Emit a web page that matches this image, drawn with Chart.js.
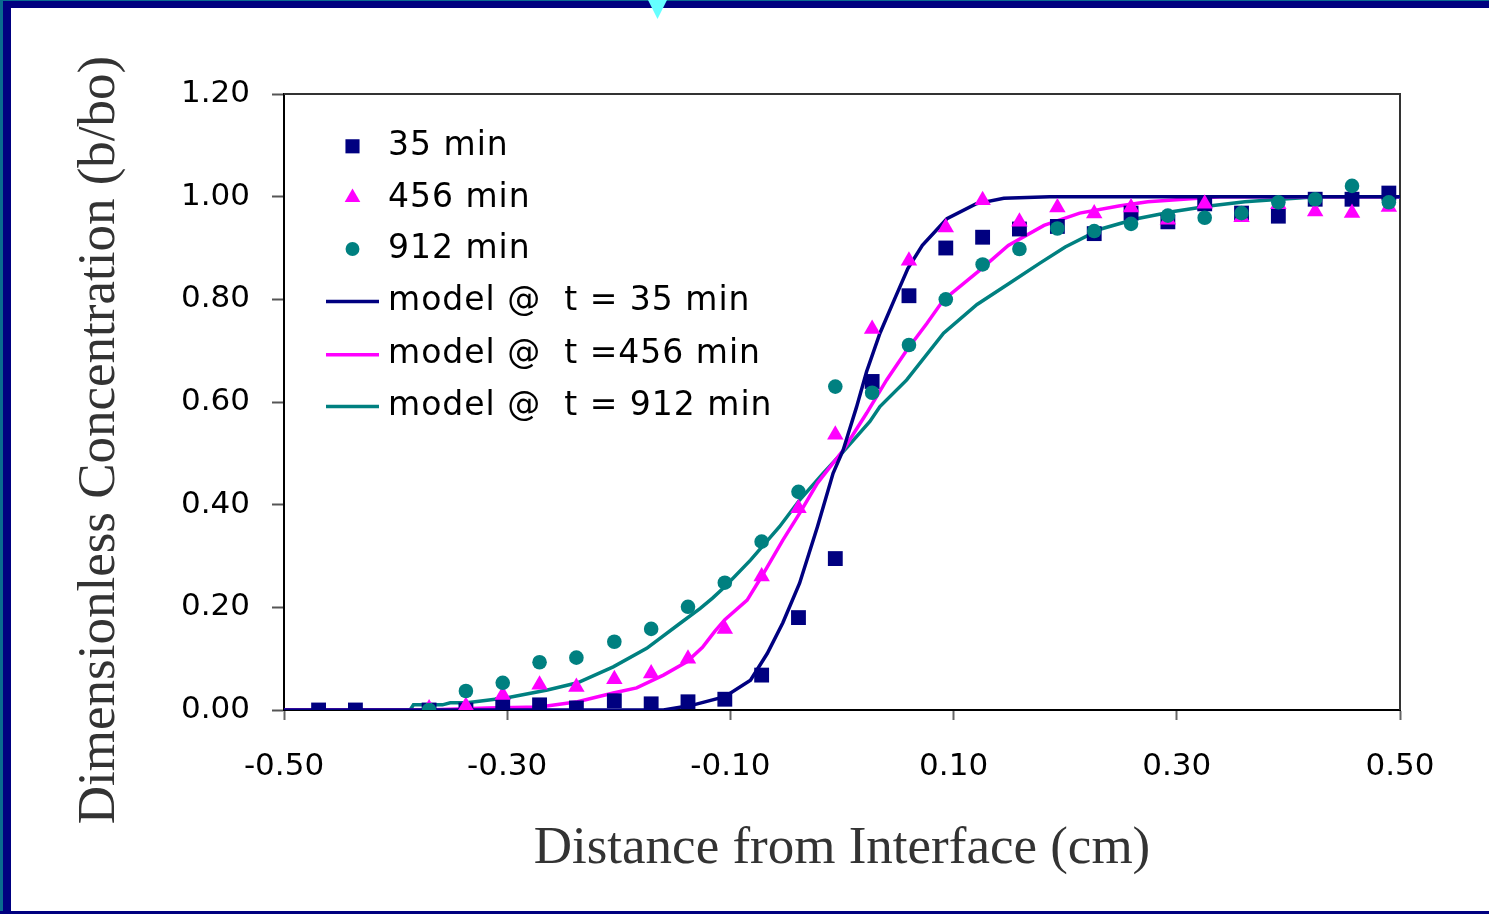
<!DOCTYPE html>
<html><head><meta charset="utf-8">
<script src="https://cdn.jsdelivr.net/npm/chart.js@4/dist/chart.umd.min.js"></script>
<style>
html,body{margin:0;padding:0;background:#fff;}
#wrap{position:relative;width:1489px;height:914px;overflow:hidden;background:#fff;}
canvas{position:absolute;left:0;top:0;}
.f{position:absolute;}
</style></head><body>
<div id="wrap">
<canvas id="c" width="1489" height="914"></canvas>
<div class="f" style="left:0;top:0;width:3px;height:914px;background:#0a6b8f"></div>
<div class="f" style="left:3px;top:0;width:8px;height:914px;background:#000080"></div>
<div class="f" style="left:0;top:0;width:1489px;height:1px;background:#0a6b8f"></div>
<div class="f" style="left:3px;top:1px;width:1486px;height:7px;background:#000080"></div>
<div class="f" style="left:0;top:911px;width:1489px;height:3px;background:#000080"></div>
<div class="f" style="left:648px;top:0;width:19px;height:19px;background:#66ffff;clip-path:polygon(0 0,100% 0,50% 100%)"></div>
</div>
<script>
// ---- data ----
const xTickValues = [-0.5, -0.3, -0.1, 0.1, 0.3, 0.5];
const yTickValues = [0, 0.2, 0.4, 0.6, 0.8, 1.0, 1.2];

const x35 = [-0.469, -0.436, -0.370, -0.337, -0.304, -0.271, -0.238, -0.204, -0.171, -0.138, -0.105, -0.072, -0.039, -0.006, 0.027, 0.060, 0.093, 0.126, 0.159, 0.193, 0.226, 0.259, 0.292, 0.325, 0.358, 0.391, 0.424, 0.457, 0.490];
const y35 = [0, 0, 0, 0, 0.010, 0.010, 0.004, 0.018, 0.012, 0.016, 0.021, 0.068, 0.180, 0.295, 0.640, 0.807, 0.900, 0.921, 0.937, 0.942, 0.928, 0.968, 0.951, 0.986, 0.968, 0.962, 0.995, 0.995, 1.007];

const x456 = [-0.370, -0.337, -0.304, -0.271, -0.238, -0.204, -0.171, -0.138, -0.105, -0.072, -0.039, -0.006, 0.027, 0.060, 0.093, 0.126, 0.159, 0.193, 0.226, 0.259, 0.292, 0.325, 0.358, 0.391, 0.424, 0.457, 0.490];
const y456 = [0.003, 0.008, 0.029, 0.049, 0.045, 0.060, 0.071, 0.100, 0.158, 0.260, 0.393, 0.536, 0.742, 0.875, 0.940, 0.993, 0.951, 0.979, 0.967, 0.979, 0.955, 0.986, 0.960, 0.985, 0.971, 0.968, 0.980];

const x912 = [-0.370, -0.337, -0.304, -0.271, -0.238, -0.204, -0.171, -0.138, -0.105, -0.072, -0.039, -0.006, 0.027, 0.060, 0.093, 0.126, 0.159, 0.193, 0.226, 0.259, 0.292, 0.325, 0.358, 0.391, 0.424, 0.457, 0.490];
const y912 = [0.000, 0.037, 0.053, 0.093, 0.102, 0.133, 0.158, 0.201, 0.248, 0.328, 0.425, 0.630, 0.618, 0.711, 0.800, 0.868, 0.898, 0.938, 0.933, 0.947, 0.963, 0.959, 0.968, 0.989, 0.995, 1.021, 0.989];

const m35x = [-0.5, -0.160, -0.133, -0.105, -0.082, -0.067, -0.053, -0.038, -0.022, -0.008, 0.001, 0.013, 0.022, 0.034, 0.047, 0.059, 0.072, 0.094, 0.120, 0.145, 0.186, 0.5];
const m35y = [0, 0, 0.010, 0.026, 0.058, 0.110, 0.170, 0.247, 0.357, 0.461, 0.506, 0.590, 0.659, 0.734, 0.800, 0.860, 0.905, 0.957, 0.986, 0.997, 1.0, 1.0];

const m456x = [-0.5, -0.372, -0.318, -0.271, -0.237, -0.205, -0.184, -0.160, -0.139, -0.125, -0.114, -0.105, -0.085, -0.072, -0.053, -0.038, -0.022, 0.001, 0.022, 0.040, 0.058, 0.076, 0.091, 0.123, 0.149, 0.181, 0.213, 0.248, 0.274, 0.306, 0.339, 0.5];
const m456y = [0, 0, 0.004, 0.006, 0.016, 0.033, 0.043, 0.068, 0.094, 0.122, 0.153, 0.176, 0.214, 0.260, 0.331, 0.383, 0.442, 0.506, 0.578, 0.643, 0.701, 0.753, 0.799, 0.856, 0.905, 0.944, 0.968, 0.982, 0.990, 0.995, 1.0, 1.0];

const m912x = [-0.5, -0.387, -0.384, -0.358, -0.351, -0.336, -0.300, -0.264, -0.237, -0.205, -0.175, -0.145, -0.127, -0.116, -0.105, -0.082, -0.056, -0.038, -0.017, 0.001, 0.025, 0.034, 0.058, 0.091, 0.121, 0.149, 0.177, 0.200, 0.232, 0.264, 0.297, 0.329, 0.361, 0.393, 0.426, 0.5];
const m912y = [0, 0, 0.010, 0.010, 0.014, 0.014, 0.024, 0.039, 0.053, 0.084, 0.120, 0.169, 0.198, 0.218, 0.240, 0.292, 0.357, 0.409, 0.461, 0.503, 0.562, 0.591, 0.643, 0.734, 0.790, 0.830, 0.870, 0.902, 0.937, 0.957, 0.971, 0.982, 0.990, 0.995, 1.0, 1.0];

const seriesLabels = ['35 min', '456 min', '912 min', 'model @  t = 35 min', 'model @  t =456 min', 'model @  t = 912 min'];
const xTitle = 'Distance from Interface (cm)';
const yTitle = 'Dimensionless Concentration (b/bo)';

const NAVY = '#000080', MAGENTA = '#ff00ff', TEAL = '#008080';
const pts = (xs, ys) => xs.map((x, i) => ({x: x, y: ys[i]}));

const datasets = [
  {label: seriesLabels[0], data: pts(x35, y35), pointStyle: 'rect', pointRadius: 10.5, backgroundColor: NAVY, borderWidth: 0, pointBorderWidth: 0, showLine: false, order: 2},
  {label: seriesLabels[1], data: pts(x456, y456), pointStyle: 'triangle', pointRadius: 9.5, backgroundColor: MAGENTA, borderWidth: 0, pointBorderWidth: 0, showLine: false, order: 1},
  {label: seriesLabels[2], data: pts(x912, y912), pointStyle: 'circle', pointRadius: 7.3, backgroundColor: TEAL, borderWidth: 0, pointBorderWidth: 0, showLine: false, order: 0},
  {label: seriesLabels[3], data: pts(m35x, m35y), showLine: true, pointRadius: 0, borderColor: NAVY, borderWidth: 3.5, tension: 0, order: 3},
  {label: seriesLabels[4], data: pts(m456x, m456y), showLine: true, pointRadius: 0, borderColor: MAGENTA, borderWidth: 3.5, tension: 0, order: 4},
  {label: seriesLabels[5], data: pts(m912x, m912y), showLine: true, pointRadius: 0, borderColor: TEAL, borderWidth: 3.5, tension: 0, order: 5}
];

const frameBox = {
  id: 'frameBox',
  beforeDatasetsDraw(chart) {
    const {ctx, chartArea: a} = chart;
    ctx.save();
    ctx.strokeStyle = '#333';
    ctx.lineWidth = 2;
    ctx.beginPath();
    ctx.moveTo(a.left, a.top);
    ctx.lineTo(a.right, a.top);
    ctx.lineTo(a.right, a.bottom);
    ctx.stroke();
    ctx.restore();
  }
};

const innerLegend = {
  id: 'innerLegend',
  afterDraw(chart) {
    const ctx = chart.ctx;
    const rows = [143.3, 194.5, 246, 297.5, 350.7, 402.5];
    const size = 33;
    ctx.save();
    chart.data.datasets.forEach((ds, i) => {
      const cy = rows[i];
      if (ds.showLine) {
        ctx.strokeStyle = ds.borderColor;
        ctx.lineWidth = 3.5;
        ctx.beginPath();
        ctx.moveTo(326, cy + 4);
        ctx.lineTo(379, cy + 4);
        ctx.stroke();
      } else {
        ctx.fillStyle = ds.backgroundColor;
        Chart.helpers.drawPoint(ctx, {pointStyle: ds.pointStyle, radius: ds.pointRadius * 0.95, rotation: 0, borderWidth: 0}, 352.5, cy + 3);
      }
      ctx.fillStyle = '#000';
      ctx.font = size + 'px "DejaVu Sans"';
      ctx.letterSpacing = '1px';
      ctx.textAlign = 'left';
      ctx.textBaseline = 'alphabetic';
      ctx.fillText(ds.label, 388, cy + 0.3645 * size);
    });
    ctx.letterSpacing = '0px';
    // rotated y-axis title
    ctx.translate(100, 440);
    ctx.rotate(-Math.PI / 2);
    ctx.font = '53px "Liberation Serif"';
    ctx.fillStyle = '#333';
    ctx.textAlign = 'center';
    ctx.textBaseline = 'middle';
    ctx.fillText(yTitle, 0, 0);
    ctx.restore();
  }
};

new Chart(document.getElementById('c'), {
  type: 'scatter',
  data: {datasets: datasets},
  plugins: [frameBox, innerLegend],
  options: {
    responsive: false,
    animation: false,
    devicePixelRatio: 1,
    layout: {padding: {left: 11, top: 94, right: 89, bottom: 0}},
    plugins: {legend: {display: false}, tooltip: {enabled: false}},
    scales: {
      x: {
        type: 'linear', min: -0.5, max: 0.5,
        afterBuildTicks: s => { s.ticks = xTickValues.map(v => ({value: v})); },
        afterFit: s => { s.height = 204; },
        ticks: {font: {family: 'DejaVu Sans', size: 31}, color: '#000', padding: 28, callback: v => Number(v).toFixed(2)},
        grid: {drawOnChartArea: false, drawTicks: true, tickLength: 10, tickColor: '#666', tickWidth: 2},
        border: {color: '#000', width: 2},
        title: {display: true, text: xTitle, font: {family: 'Liberation Serif', size: 53}, color: '#333', padding: {top: 0, bottom: 33}}
      },
      y: {
        type: 'linear', min: 0, max: 1.2,
        afterBuildTicks: s => { s.ticks = yTickValues.map(v => ({value: v})); },
        afterFit: s => { s.width = 273; },
        ticks: {font: {family: 'DejaVu Sans', size: 31}, color: '#000', padding: 22, callback: v => Number(v).toFixed(2)},
        grid: {drawOnChartArea: false, drawTicks: true, tickLength: 12, tickColor: '#555', tickWidth: 2},
        border: {color: '#000', width: 2}
      }
    }
  }
});
</script>
</body></html>
